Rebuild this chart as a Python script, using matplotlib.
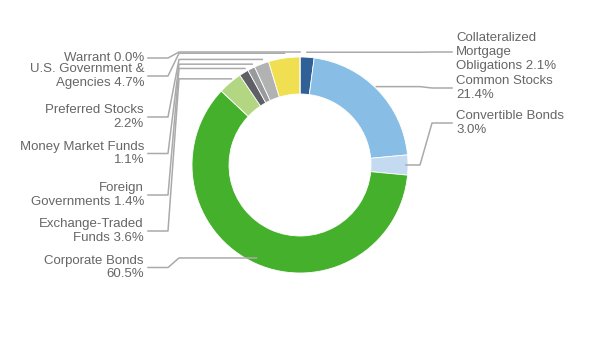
import matplotlib.pyplot as plt
import numpy as np

# holdings breakdown, clockwise from 12 o'clock
names = ['Collateralized\nMortgage\nObligations', 'Common Stocks', 'Convertible Bonds',
         'Corporate Bonds', 'Exchange-Traded\nFunds', 'Foreign\nGovernments',
         'Money Market Funds', 'Preferred Stocks', 'U.S. Government &\nAgencies', 'Warrant']
seps = [' ', '\n', '\n', '\n', ' ', ' ', '\n', '\n', ' ', ' ']
values = [2.1, 21.4, 3.0, 60.5, 3.6, 1.4, 1.1, 2.2, 4.7, 0.0]
colors = ['#2f6096', '#88bde5', '#c4daf1', '#45b02b', '#b3d683',
          '#5f6065', '#999a9c', '#b1b2b2', '#f0df50', '#dddddd']

# label layout (pixels): side and vertical centre of each label
sides = ['r', 'r', 'r', 'l', 'l', 'l', 'l', 'l', 'l', 'l']
label_y = [52, 88, 123, 267.5, 231, 195, 153.5, 117, 76, 58]

cx, cy, R, W = 300, 165, 108, 37
text_color = '#666666'
line_color = '#aaaaaa'

fig = plt.figure(figsize=(6, 3.6), dpi=100)
ax = fig.add_axes([0, 0, 1, 1])

ax.pie(values, colors=colors, startangle=-90, counterclock=True,
       center=(cx, cy), radius=R,
       wedgeprops=dict(width=W, edgecolor='white', linewidth=0.6))
ax.set_xlim(0, 600)
ax.set_ylim(360, 0)
ax.set_aspect('equal')
ax.axis('off')

frac = np.cumsum(values) - np.array(values) / 2
frac = frac / np.sum(values)
for name, sep, v, side, ly, f in zip(names, seps, values, sides, label_y, frac):
    phi = 2 * np.pi * f
    end_x = cx + (R - 2) * np.sin(phi)
    ay = cy - (R + 5) * np.cos(phi)
    if name == 'Corporate Bonds':
        ay = cy - (R - 6) * np.cos(phi)
    text = f'{name}{sep}{v:.1f}%'
    if side == 'l':
        xs = [148, 168, 179, end_x]
        ax.text(144, ly, text, ha='right', va='center', fontsize=9.5,
                color=text_color, family='Liberation Sans', linespacing=1.18)
    else:
        xs = [452, 432, 420, end_x]
        ax.text(456, ly, text, ha='left', va='center', fontsize=9.5,
                color=text_color, family='Liberation Sans', linespacing=1.18)
    ax.plot(xs, [ly, ly, ay, ay], color=line_color, lw=1.1, zorder=5,
            solid_joinstyle='round')

plt.savefig('out.png', dpi=100)
